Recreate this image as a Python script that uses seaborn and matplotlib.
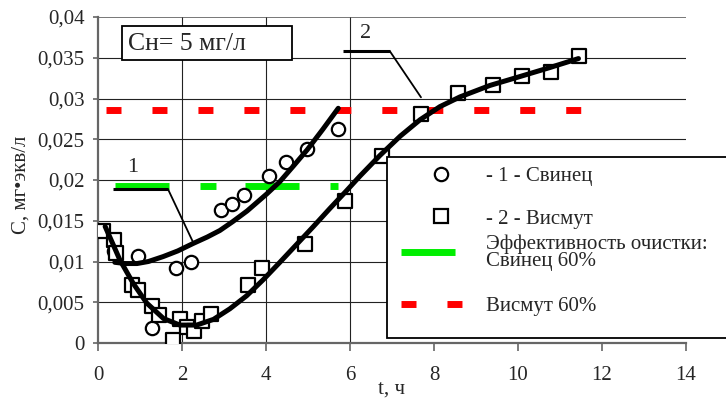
import matplotlib
matplotlib.use("Agg")
import matplotlib.pyplot as plt
import seaborn as sns
import pandas as pd
from matplotlib.lines import Line2D
from matplotlib.patches import Rectangle
from matplotlib.ticker import FixedLocator, FixedFormatter

# ---------------- data ----------------
lead_t = [0.38, 0.95, 1.29, 1.85, 2.22, 2.94, 3.20, 3.48, 4.08, 4.48, 4.98, 5.72]
lead_c = [0.0113, 0.0107, 0.0019, 0.0092, 0.0100, 0.0163, 0.0170, 0.0181,
          0.0205, 0.0222, 0.0238, 0.0263]

bism_t = [0.12, 0.37, 0.44, 0.80, 0.96, 1.28, 1.45, 1.78, 1.95, 2.11, 2.29, 2.47,
          2.68, 3.58, 3.90, 4.93, 5.88, 6.75, 7.69, 8.56, 9.40, 10.10, 10.78, 11.45]
bism_c = [0.0137, 0.0126, 0.0111, 0.0071, 0.0065, 0.0045, 0.0034, 0.0004, 0.0029,
          0.0020, 0.0015, 0.0027, 0.0036, 0.0071, 0.0092, 0.0122, 0.0174, 0.0230,
          0.0281, 0.0307, 0.0316, 0.0327, 0.0332, 0.0352]

lead_fit_t = [0.40, 0.65, 0.93, 1.20, 1.55, 1.90, 2.26, 2.60, 2.90, 3.21, 3.55,
              4.02, 4.33, 4.65, 4.98, 5.35, 5.72]
lead_fit_c = [0.0099, 0.00975, 0.00975, 0.0100, 0.0106, 0.0113, 0.0122, 0.0130,
              0.0138, 0.0149, 0.0162, 0.0183, 0.0198, 0.0217, 0.0237, 0.0262, 0.0288]

bism_fit_t = [0.17, 0.35, 0.52, 0.84, 1.16, 1.56, 1.95, 2.35, 2.75, 3.14, 3.54,
              3.94, 4.33, 4.73, 5.13, 5.52, 5.92, 6.24, 6.71, 7.20, 7.67, 8.14,
              8.62, 9.33, 10.05, 10.76, 11.44]
bism_fit_c = [0.0143, 0.0122, 0.0102, 0.0073, 0.0049, 0.0030, 0.0022, 0.0022,
              0.0029, 0.0042, 0.0058, 0.0078, 0.0099, 0.0121, 0.0143, 0.0165,
              0.0187, 0.0205, 0.0230, 0.0254, 0.0274, 0.0290, 0.0302, 0.0316,
              0.0327, 0.0338, 0.0349]

lead_limit_t = [0.40, 5.72]
lead_limit_c = [0.0193, 0.0193]
bism_limit_t = [0.20, 11.50]
bism_limit_c = [0.0286, 0.0286]

x_ticks = [0, 2, 4, 6, 8, 10, 12, 14]
x_tick_labels = ["0", "2", "4", "6", "8", "10", "12", "14"]
x_grid = [2, 4, 6]
y_ticks = [0, 0.005, 0.01, 0.015, 0.02, 0.025, 0.03, 0.035, 0.04]
y_tick_labels = ["0", "0,005", "0,01", "0,015", "0,02", "0,025", "0,03", "0,035", "0,04"]

legend_labels = ["- 1 - Свинец", "- 2 - Висмут",
                 "Эффективность очистки:\nСвинец 60%", "Висмут 60%"]
x_title = "t, ч"
y_title = "С, мг•экв/л"
box_text = "Сн= 5 мг/л"

# leader lines for curve labels (data coords)
lab1_pos = (0.83, 0.0215)
lab1_leader_t = [0.357, 1.667, 2.262]
lab1_leader_c = [0.01887, 0.01887, 0.01238]
lab2_pos = (6.38, 0.0380)
lab2_leader_t = [5.833, 6.952, 7.69]
lab2_leader_c = [0.03578, 0.03578, 0.03015]

# ---------------- style ----------------
sns.set_style("white")
plt.rcParams["font.family"] = ["Liberation Serif", "DejaVu Serif"]
plt.rcParams["lines.scale_dashes"] = False
FS = 15

W, H = 726, 399
fig = plt.figure(figsize=(W / 100, H / 100), dpi=100)
ax = fig.add_axes([98 / W, 1 - 343 / H, 588 / W, 326 / H])
ax.set_xlim(0, 14)
ax.set_ylim(0, 0.04)

# grid
for yv in y_ticks[1:]:
    ax.axhline(yv, color="#222222" if yv < 0.04 else "#777777",
               lw=0.8 if yv < 0.04 else 1.4, zorder=0.5)
ax.vlines(x_grid, 0, 0.04, color="#222222", lw=0.8, zorder=0.5)

# reference (60 %) lines
red_dash = (0, (10.8, 22.3))
green_dash = (0, (38.9, 22.3, 11.5, 20.9))
ax.plot(bism_limit_t, bism_limit_c, color="#ff0000", lw=5, linestyle=red_dash,
        solid_capstyle="butt", dash_capstyle="butt", zorder=2)
ax.plot(lead_limit_t, lead_limit_c, color="#00ee00", lw=5, linestyle=green_dash,
        solid_capstyle="butt", dash_capstyle="butt", zorder=2)

# scatter points
sns.scatterplot(x=lead_t, y=lead_c, ax=ax, marker="o", s=92, facecolor="white",
                edgecolor="black", linewidth=1.6, zorder=3, legend=False)
sns.scatterplot(x=bism_t, y=bism_c, ax=ax, marker="s", s=110, facecolor="white",
                edgecolor="black", linewidth=1.6, zorder=3.2, legend=False)

# trend curves
sns.lineplot(x=lead_fit_t, y=lead_fit_c, ax=ax, color="black", lw=3.6,
             sort=False, estimator=None, zorder=4)
sns.lineplot(x=bism_fit_t, y=bism_fit_c, ax=ax, color="black", lw=3.6,
             sort=False, estimator=None, zorder=4)

# curve labels with leaders
ax.text(*lab1_pos, "1", fontsize=16, ha="center", va="center", zorder=5)
ax.plot(lab1_leader_t[:2], lab1_leader_c[:2], color="black", lw=2.2, zorder=5,
        solid_capstyle="butt")
ax.plot(lab1_leader_t[1:], lab1_leader_c[1:], color="black", lw=1.3, zorder=5)
ax.text(*lab2_pos, "2", fontsize=16, ha="center", va="center", zorder=5)
ax.plot(lab2_leader_t[:2], lab2_leader_c[:2], color="black", lw=2.2, zorder=5,
        solid_capstyle="butt")
ax.plot(lab2_leader_t[1:], lab2_leader_c[1:], color="black", lw=1.3, zorder=5)

# text box
ax.add_patch(Rectangle((0.0408, 0.868), 0.289, 0.1044, transform=ax.transAxes,
                       facecolor="white", edgecolor="black", lw=1.3, zorder=5))
ax.text(0.051, 0.918, box_text, transform=ax.transAxes, fontsize=18.5,
        ha="left", va="center", zorder=6)

# axes, ticks
for s in ["top", "right"]:
    ax.spines[s].set_visible(False)
for s in ["left", "bottom"]:
    ax.spines[s].set_color("#666666")
    ax.spines[s].set_linewidth(1.6)
ax.xaxis.set_major_locator(FixedLocator(x_ticks))
ax.xaxis.set_major_formatter(FixedFormatter(x_tick_labels))
ax.yaxis.set_major_locator(FixedLocator(y_ticks))
ax.yaxis.set_major_formatter(FixedFormatter(y_tick_labels))
ax.tick_params(axis="x", direction="out", length=5.5, width=1.2, color="#666666",
               pad=11, labelsize=FS, bottom=True)
ax.tick_params(axis="y", direction="out", length=3.6, width=1.2, color="#666666",
               pad=6, labelsize=FS, left=True)
ax.set_xlabel(x_title, fontsize=FS)
ax.xaxis.set_label_coords(0.5, -0.171)
ax.xaxis.label.set_va("bottom")
ax.set_ylabel(y_title, fontsize=FS)
ax.yaxis.set_label_coords(-0.114, 0.485)

# legend frame
ax.add_patch(Rectangle((0.4915, 0.0153), 0.62, 0.5553, transform=ax.transAxes,
                       facecolor="white", edgecolor="black", lw=1.3, zorder=8,
                       clip_on=False))

h_circle = Line2D([], [], marker="o", ls="none", ms=9.6, mfc="white", mec="black", mew=1.6)
h_square = Line2D([], [], marker="s", ls="none", ms=10.5, mfc="white", mec="black", mew=1.6)
h_green = Line2D([], [], color="#00ee00", lw=5, linestyle=green_dash, dash_capstyle="butt")
h_red = Line2D([], [], color="#ff0000", lw=5, linestyle=red_dash, dash_capstyle="butt")

common = dict(loc="upper left", frameon=False, borderpad=0, borderaxespad=0,
              prop={"size": FS})
legA = ax.legend([h_circle, h_square], legend_labels[:2],
                 bbox_to_anchor=(0.5663, 0.5414), labelspacing=1.10,
                 handlelength=1.0, handletextpad=1.63, **common)
legA.set_zorder(9)
ax.add_artist(legA)
legB = ax.legend([h_green, h_red], legend_labels[2:],
                 bbox_to_anchor=(0.5153, 0.3327), labelspacing=1.24,
                 handlelength=2.98, handletextpad=1.1, **common)
legB.set_zorder(9)
legB.get_texts()[0].set_linespacing(0.85)

fig.savefig("out.png", dpi=100)
